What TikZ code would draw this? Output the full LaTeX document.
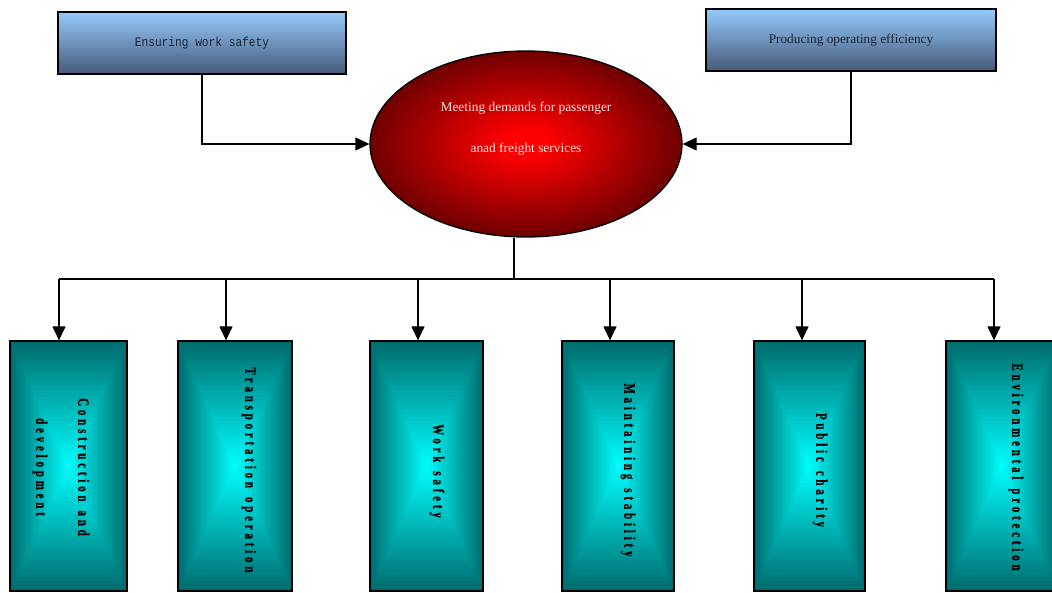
\documentclass[tikz,border=0pt]{standalone}
\usepackage{fontspec}
\setmainfont{Liberation Serif}
\newfontfamily\monof[FakeStretch=0.86]{Liberation Mono}
\newfontfamily\vertf[FakeStretch=0.68,LetterSpace=24,FakeBold=0.7]{Liberation Serif}
\usetikzlibrary{arrows.meta,calc,shapes.geometric}
\definecolor{tealdark}{RGB}{0,108,110}
\definecolor{brightcyan}{RGB}{0,255,255}
\definecolor{boxtop}{RGB}{150,202,252}
\definecolor{boxbot}{RGB}{70,90,120}
\definecolor{redout}{RGB}{112,0,0}
\definecolor{redin}{RGB}{255,0,0}
\definecolor{elltext}{RGB}{246,226,226}
\definecolor{toptext}{RGB}{25,35,55}
\newcommand{\wsp}{\hspace{9pt}}
\tikzset{
  topbox/.style={draw=black, line width=1.6pt, top color=boxtop, bottom color=boxbot,
    minimum height=62pt, inner sep=0pt, text=toptext},
  ellbox/.style={shape=ellipse, draw=black, line width=1.3pt,
    minimum width=312pt, minimum height=186pt, inner sep=0pt,
    path picture={
      \fill[redout] (path picture bounding box.north west) rectangle (path picture bounding box.south east);
      \foreach \i in {1,...,40}{
        \pgfmathsetmacro{\f}{1-\i/40}
        \pgfmathsetmacro{\p}{min(100,100*(\i/40)/0.85)}
        \pgfmathsetmacro{\rx}{156*\f}
        \pgfmathsetmacro{\ry}{93*\f}
        \fill[redin!\p!redout] (path picture bounding box.center) ellipse [x radius=\rx pt, y radius=\ry pt];
      }}},
  pillow/.style={draw=black, line width=1.3pt, minimum height=250pt, inner sep=0pt,
    path picture={
      \foreach \i in {0,...,36}{
        \pgfmathsetmacro{\f}{1-\i/36}
        \pgfmathsetmacro{\p}{100*\i/36}
        \fill[brightcyan!\p!tealdark]
          ($(path picture bounding box.center)!\f!(path picture bounding box.north west)$)
          rectangle
          ($(path picture bounding box.center)!\f!(path picture bounding box.south east)$);
      }}},
  vtext/.style={rotate=-90, inner sep=0pt, align=center,
    font=\vertf\bfseries\fontsize{16}{17}\selectfont},
  conn/.style={line width=1.3pt, draw=black},
  arr/.style={conn, -{Triangle[length=14pt,width=13pt]}}
}
\begin{document}
\begin{tikzpicture}[x=1pt,y=-1pt]
\useasboundingbox (0,0) rectangle (1052,592);
% top boxes
\node[topbox, minimum width=288pt, font=\monof\fontsize{13}{15}\selectfont] (tl) at (202,43) {\raisebox{-1pt}{Ensuring work safety}};
\node[topbox, minimum width=290pt, font=\fontsize{13.3}{15}\selectfont] (tr) at (851,40) {\raisebox{-2pt}{Producing operating efficiency}};
% ellipse
\node[ellbox] (ell) at (526,144) {};
\node[align=center, text=elltext, inner sep=0pt, font=\fontsize{13.4}{15}\selectfont] (etext) at (526,129) {Meeting demands for passenger\\[26pt]anad freight services};
\draw[arr] (tl.south) |- (ell.west);
\draw[arr] (tr.south) |- (ell.east);
% bottom boxes
\node[pillow, minimum width=117pt] (b1) at (68.5,466) {};
\node[pillow, minimum width=114pt] (b2) at (235,466) {};
\node[pillow, minimum width=113pt] (b3) at (426.5,466) {};
\node[pillow, minimum width=112pt] (b4) at (618,466) {};
\node[pillow, minimum width=111pt] (b5) at (809.5,466) {};
\node[pillow, minimum width=112pt] (b6) at (1002,466) {};
\node[vtext] (t1) at (61,467) {Construction\wsp and\\[25pt]development};
\node[vtext] (t2) at (249,470) {Transportation\wsp operation};
\node[vtext] (t3) at (437,471) {Work\wsp safety};
\node[vtext] (t4) at (628,470) {Maintaining\wsp stability};
\node[vtext] (t5) at (820,470) {Public\wsp charity};
\node[vtext] (t6) at (1016,467) {Environmental\wsp protection};
% bus
\coordinate (e0) at ([xshift=-12pt]ell.south);
\coordinate (d1) at (59,279);
\coordinate (d2) at (226,279);
\coordinate (d3) at (418,279);
\coordinate (d4) at (610,279);
\coordinate (d5) at (802,279);
\coordinate (d6) at (994,279);
\draw[conn] (e0) -- (e0 |- d1);
\draw[conn] (d1) -- (d6);
\draw[arr] (d1) -- (d1 |- b1.north);
\draw[arr] (d2) -- (d2 |- b2.north);
\draw[arr] (d3) -- (d3 |- b3.north);
\draw[arr] (d4) -- (d4 |- b4.north);
\draw[arr] (d5) -- (d5 |- b5.north);
\draw[arr] (d6) -- (d6 |- b6.north);
\end{tikzpicture}
\end{document}
